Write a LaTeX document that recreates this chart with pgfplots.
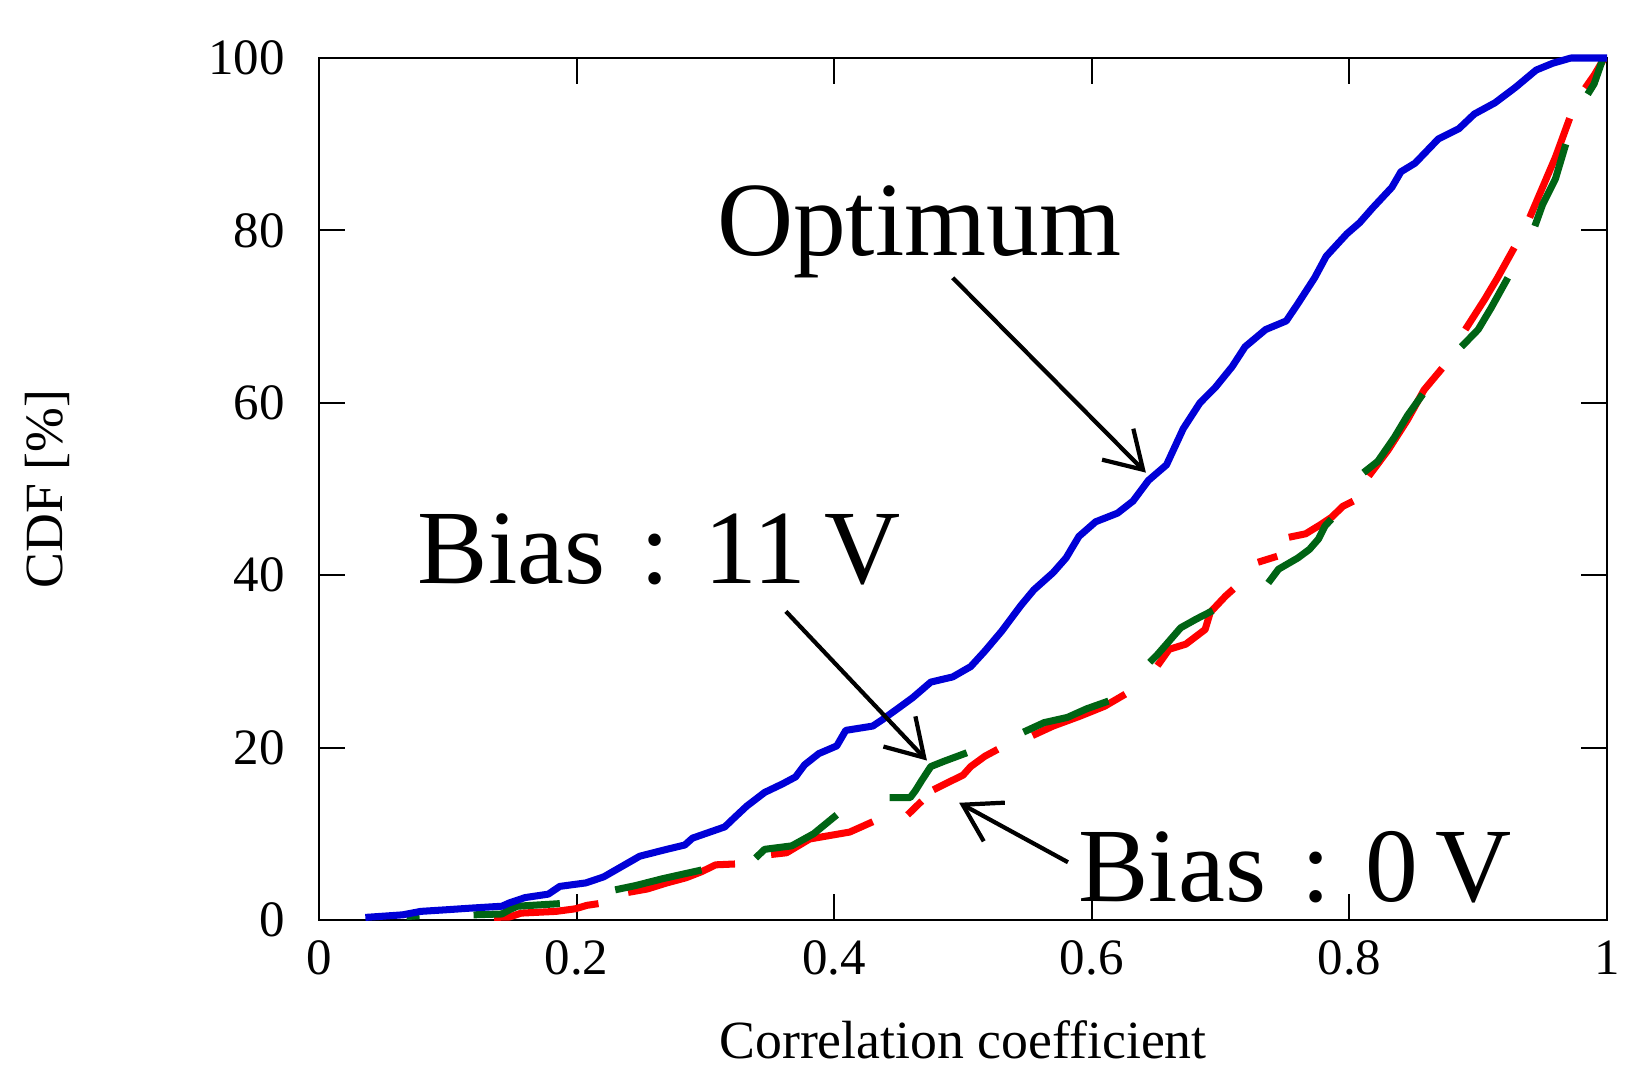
\documentclass[border=0pt]{standalone}
\usepackage{pgfplots}
\pgfplotsset{compat=1.18}
\usepackage{pgfplotstable}
\usepackage{fontspec}
\setmainfont{Liberation Serif}
\usetikzlibrary{arrows.meta}
\definecolor{cblue}{RGB}{0,0,215}
\definecolor{cred}{RGB}{255,0,0}
\definecolor{cgreen}{RGB}{0,100,20}

\pgfplotstableread{
x y
0.036 0.3
0.065 0.6
0.079 1.0
0.10 1.2
0.12 1.4
0.142 1.6
0.148 2.0
0.16 2.6
0.178 3.0
0.187 3.9
0.207 4.3
0.221 5.0
0.235 6.2
0.249 7.4
0.27 8.2
0.284 8.7
0.29 9.5
0.315 10.8
0.322 11.8
0.332 13.2
0.346 14.8
0.36 15.8
0.37 16.6
0.377 18.0
0.388 19.3
0.402 20.2
0.409 22.0
0.43 22.5
0.437 23.2
0.45 24.6
0.461 25.8
0.475 27.6
0.492 28.2
0.506 29.4
0.517 31.2
0.53 33.5
0.545 36.5
0.555 38.3
0.57 40.3
0.58 42.0
0.59 44.5
0.603 46.2
0.62 47.2
0.632 48.6
0.644 51.0
0.658 52.8
0.671 57.0
0.684 60.0
0.696 61.8
0.709 64.2
0.719 66.5
0.735 68.5
0.751 69.5
0.76 71.5
0.773 74.5
0.782 77.0
0.798 79.6
0.808 80.9
0.818 82.6
0.833 85.0
0.84 86.8
0.851 87.8
0.869 90.6
0.885 91.8
0.897 93.5
0.913 94.8
0.929 96.6
0.945 98.6
0.958 99.4
0.972 100
1.0 100
}\optimum

\pgfplotstableread{
x y
0.068 0.4
0.078 0.5
nan nan
0.12 0.6
0.142 0.7
0.148 1.2
0.154 1.6
0.187 1.9
nan nan
0.23 3.5
0.246 4.0
0.267 4.8
0.297 5.8
nan nan
0.339 7.2
0.346 8.2
0.367 8.6
0.384 10.0
0.402 12.2
nan nan
0.443 14.2
0.459 14.2
0.463 15.0
0.468 16.2
0.475 17.8
0.485 18.4
0.503 19.4
nan nan
0.547 21.8
0.563 22.9
0.581 23.5
0.596 24.5
0.613 25.4
nan nan
0.645 29.9
0.651 30.8
0.658 32.0
0.669 33.9
0.681 34.9
0.694 35.9
nan nan
0.737 39.1
0.745 40.7
0.76 42.0
0.769 43.0
0.776 44.2
0.781 45.7
0.786 46.5
nan nan
0.811 51.9
0.822 53.2
0.835 56.0
0.845 58.5
0.857 61.0
nan nan
0.887 66.5
0.9 68.5
0.91 71.0
0.923 74.5
nan nan
0.944 80.5
0.95 83.0
0.96 86.0
0.968 90.0
nan nan
0.985 95.8
0.99 97.0
0.997 100
}\biaseleven

\pgfplotstableread{
x y
0.136 0.3
0.148 0.35
0.157 0.8
0.184 1.0
0.199 1.3
0.208 1.7
0.217 1.9
nan nan
0.24 3.2
0.255 3.6
0.27 4.3
0.285 4.9
0.297 5.6
0.308 6.4
0.323 6.5
nan nan
0.351 7.6
0.363 7.8
0.381 9.4
0.412 10.2
0.43 11.4
nan nan
0.457 12.2
0.468 13.8
nan nan
0.477 15.1
0.489 16.0
0.5 16.8
0.506 17.8
0.517 19.0
0.527 19.8
nan nan
0.554 21.4
0.57 22.5
0.59 23.6
0.61 24.8
0.626 26.2
nan nan
0.651 29.5
0.66 31.4
0.673 32.0
0.688 33.7
0.692 35.7
0.704 37.6
0.71 38.4
nan nan
0.729 41.5
0.744 42.2
nan nan
0.753 44.4
0.766 44.8
0.778 45.9
0.786 46.7
0.795 48.0
0.803 48.6
nan nan
0.815 51.5
0.83 54.5
0.845 58.0
0.858 61.5
0.872 64.0
nan nan
0.89 68.5
0.905 72.0
0.915 74.5
0.928 78.0
nan nan
0.94 81.5
0.95 85.0
0.96 88.5
0.971 93.0
nan nan
0.983 96.5
0.99 98.0
0.998 100
}\biaszero

\begin{document}
\begin{tikzpicture}
\path (-3.19cm,-1.59cm) rectangle (13.17cm,9.20cm);
\begin{axis}[
  scale only axis,
  width=12.88cm, height=8.62cm,
  xmin=0, xmax=1, ymin=0, ymax=100,
  xtick={0,0.2,0.4,0.6,0.8,1},
  xticklabels={0,0.2,0.4,0.6,0.8,1},
  ytick={0,20,40,60,80,100},
  major tick length=0.26cm,
  tick style={black, line width=0.6pt},
  axis line style={line width=0.7pt},
  /pgf/number format/assume math mode=true,
  ticklabel style={font=\fontsize{14.5}{17}\selectfont},
  yticklabel style={xshift=-0.22cm},
  xticklabel style={yshift=-0.08cm},
  unbounded coords=jump,
  xlabel={Correlation coefficient},
  ylabel={CDF [\%]},
  label style={font=\fontsize{15.3}{18}\selectfont},
  xlabel style={at={(axis description cs:0.5,-0.139)}, anchor=center},
  ylabel style={at={(axis description cs:-0.211,0.5)}, anchor=center},
  clip=false,
]
\addplot[cred, line width=2pt, line join=round] table[x=x,y=y] {\biaszero};
\addplot[cgreen, line width=2pt, line join=round] table[x=x,y=y] {\biaseleven};
\addplot[cblue, line width=2pt, line join=round] table[x=x,y=y] {\optimum};

\node[font=\fontsize{30}{35}\selectfont] at (axis cs:0.466,79.8) {Optimum};
\node[font=\fontsize{30}{35}\selectfont] at (axis cs:0.264,43) {Bias\,\,:\,\,11\,V};
\node[font=\fontsize{30}{35}\selectfont] at (axis cs:0.758,6.1) {Bias\,\,:\,\,0\,V};
\draw[line width=1.2pt, -{Straight Barb[length=0.36cm, width=0.44cm, line width=1.2pt]}] (axis cs:0.492,74.5) -- (axis cs:0.642,51.9);
\draw[line width=1.2pt, -{Straight Barb[length=0.36cm, width=0.44cm, line width=1.2pt]}] (axis cs:0.3625,35.8) -- (axis cs:0.472,18.5);
\draw[line width=1.2pt, -{Straight Barb[length=0.36cm, width=0.44cm, line width=1.2pt]}] (axis cs:0.5815,6.7) -- (axis cs:0.497,13.6);
\end{axis}
\end{tikzpicture}
\end{document}
